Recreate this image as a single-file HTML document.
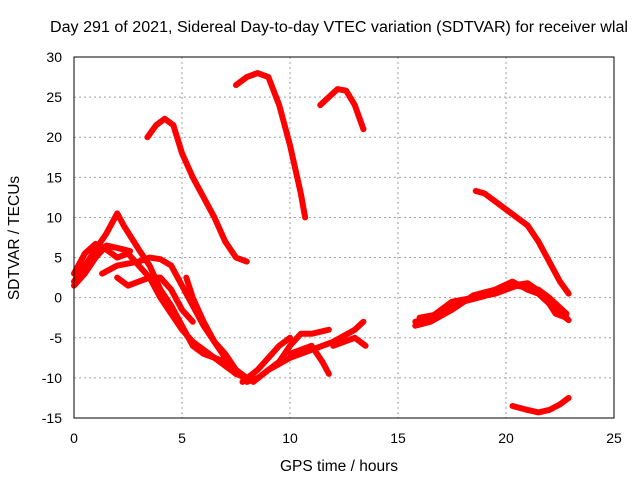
<!DOCTYPE html>
<html><head><meta charset="utf-8"><style>
body{margin:0;background:#fff;}
svg text{font-family:"Liberation Sans",sans-serif;font-size:14px;fill:#000;}
</style></head><body>
<svg id="chart" width="640" height="480" xmlns="http://www.w3.org/2000/svg">
<rect width="640" height="480" fill="#fff"/>
<text x="50" y="32" textLength="578" lengthAdjust="spacingAndGlyphs" style="font-size:15.5px">Day 291 of 2021, Sidereal Day-to-day VTEC variation (SDTVAR) for receiver wlal</text>
<text x="339" y="471" text-anchor="middle" style="font-size:15.5px">GPS time / hours</text>
<text transform="translate(19,238) rotate(-90)" text-anchor="middle" style="font-size:15.5px">SDTVAR / TECUs</text>
<g id="grid"></g><g id="ticks"></g><g id="series"></g>
<rect x="74" y="57" width="540" height="361" fill="none" stroke="#000" stroke-width="1"/>
</svg>
<script>
const xTicks=[0,5,10,15,20,25];
const yTicks=[-15,-10,-5,0,5,10,15,20,25,30];
const t1=[[3.4,20],[3.8,21.5],[4.2,22.3],[4.6,21.5],[5,18],[5.5,15],[6,12.5],[6.5,10],[7,7],[7.5,5],[8,4.5]];
const t2=[[7.5,26.5],[8,27.5],[8.5,28],[9,27.5],[9.5,24],[10,19],[10.5,13],[10.7,10]];
const t3=[[11.4,24],[11.8,25],[12.2,26],[12.6,25.8],[13,24],[13.4,21]];
const t4=[[18.6,13.3],[19,13],[19.5,12],[20,11],[20.5,10],[21,9],[21.5,7],[22,4.5],[22.5,2],[22.9,0.5]];
const t5=[[15.8,-3],[16.5,-2.5],[17,-1.5],[17.5,-0.5],[18.5,0],[19.5,0.5],[20.5,1.5],[21.5,1],[22,0],[22.8,-2]];
const t5b=[[15.8,-3.5],[16.5,-3],[17.5,-1.5],[18.5,0.3],[19.5,1],[20.3,2],[21,1],[21.5,0.5],[22.3,-1.5],[22.9,-2.8]];
const t5c=[[16,-2.5],[17,-2],[18,-0.5],[19,0.2],[19.8,1],[20.3,1.5],[21,1.8],[21.7,0.5],[22.3,-2],[22.8,-2.5]];
const t6=[[20.3,-13.5],[21,-14],[21.5,-14.3],[22,-14],[22.5,-13.3],[22.9,-12.5]];
const tA=[[0,2],[0.5,4],[1,6],[1.5,8],[2,10.5],[2.3,9],[3,6],[3.5,4],[4,1],[4.5,-1],[5,-3.5],[5.5,-6],[6,-7],[7,-8],[7.5,-9.5],[8,-10]];
const tB=[[0,3],[0.5,5.5],[1,6.7],[1.5,6],[2,5],[2.5,5.5],[3,4],[3.5,2.5],[4,0],[4.5,-2],[5,-4],[5.5,-5.5],[6,-6.5],[6.5,-7.5],[7,-8.5],[7.5,-9.5]];
const tC=[[0,1.5],[0.5,3],[1,5],[1.5,6.5],[2,6.2],[2.6,5.8]];
const tD=[[1.3,3],[2,4],[3,4.5],[3.5,5],[4,4.8],[4.5,4],[5,1.5],[5.5,-1],[6,-3.5],[6.5,-5.5],[7,-7],[7.5,-9],[8,-10.5],[8.5,-10]];
const tE=[[2,2.5],[2.5,1.5],[3,2],[3.5,2.5],[4,2.5],[4.5,1],[5,-1.5],[5.5,-3]];
const tF=[[5.2,2.5],[5.5,0],[6,-3],[6.5,-5.5],[7,-7.5],[7.5,-9],[8,-10]];
const tG=[[7.8,-10.5],[8.5,-9],[9,-7.5],[9.5,-6],[10,-5]];
const tH=[[8.3,-10.5],[9,-9],[9.5,-8],[10,-6],[10.5,-4.5],[11,-4.5],[11.8,-4]];
const tI=[[9,-9],[10,-7.5],[11,-6.5],[12,-5.5],[13,-4],[13.4,-3]];
const tJ=[[10,-7],[11,-6],[11.5,-8],[11.8,-9.5]];
const tK=[[12,-6],[12.5,-5.5],[13,-5],[13.5,-6]];
const tracks={t1,t2,t3,t4,t5,t5b,t5c,t6,tA,tB,tC,tD,tE,tF,tG,tH,tI,tJ,tK};
const NS="http://www.w3.org/2000/svg";
const xs=h=>74+h*(540/25);
const ys=v=>57+(30-v)*(361/45);
const grid=document.getElementById('grid'),ticks=document.getElementById('ticks'),ser=document.getElementById('series');
xTicks.forEach(t=>{
  if(t>0&&t<25){const l=document.createElementNS(NS,'line');
  
  
  l.setAttribute('x1',xs(t));l.setAttribute('x2',xs(t));l.setAttribute('y1',57);l.setAttribute('y2',418);
  l.setAttribute('stroke','#a0a0a0');l.setAttribute('stroke-dasharray','2,3');grid.appendChild(l);}
  const tx=document.createElementNS(NS,'text');
  
  
  tx.setAttribute('x',xs(t));tx.setAttribute('y',443);tx.setAttribute('text-anchor','middle');tx.textContent=t;ticks.appendChild(tx);
});
yTicks.forEach(t=>{
  if(t>-15&&t<30){const l=document.createElementNS(NS,'line');
  
  
  l.setAttribute('x1',74);l.setAttribute('x2',614);l.setAttribute('y1',ys(t));l.setAttribute('y2',ys(t));
  l.setAttribute('stroke','#a0a0a0');l.setAttribute('stroke-dasharray','2,3');grid.appendChild(l);}
  const tx=document.createElementNS(NS,'text');
  
  
  tx.setAttribute('x',62);tx.setAttribute('y',ys(t)+5);tx.setAttribute('text-anchor','end');tx.textContent=t;ticks.appendChild(tx);
});
Object.keys(tracks).forEach(k=>{
  const p=document.createElementNS(NS,'polyline');
  
  
  p.setAttribute('points',tracks[k].map(d=>xs(d[0])+','+ys(d[1])).join(' '));
  p.setAttribute('fill','none');p.setAttribute('stroke','#ff0000');p.setAttribute('stroke-width','6');
  p.setAttribute('stroke-linejoin','round');p.setAttribute('stroke-linecap','round');
  ser.appendChild(p);
});
</script>
</body></html>
